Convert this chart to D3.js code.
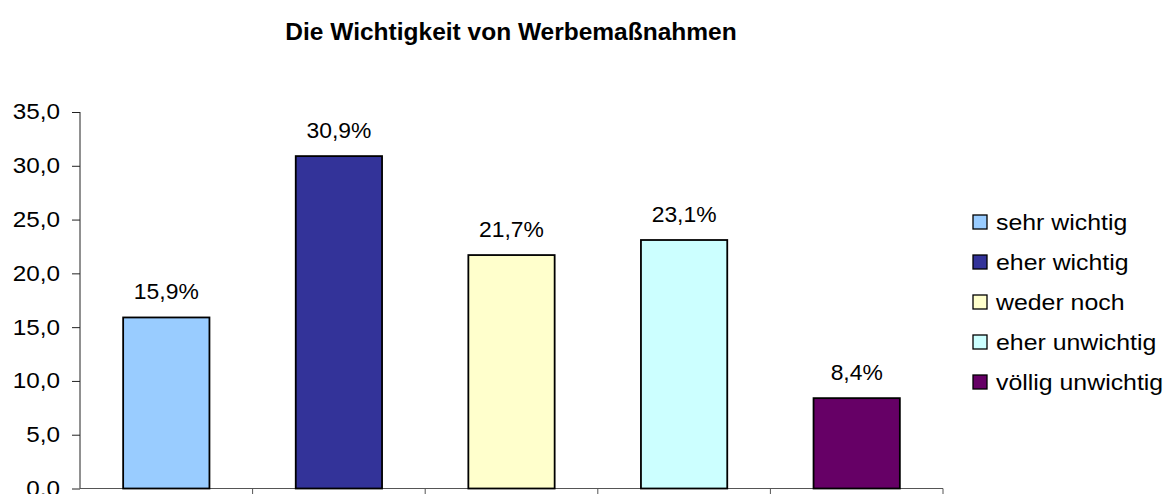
<!DOCTYPE html>
<html>
<head>
<meta charset="utf-8">
<script src="https://cdn.jsdelivr.net/npm/d3@7"></script>
<style>
  html, body { margin: 0; padding: 0; background: #fff; }
  svg { display: block; font-family: "Liberation Sans", Arial, sans-serif; }
</style>
</head>
<body>
<div id="chart"></div>
<script>
const categories = ['sehr wichtig', 'eher wichtig', 'weder noch', 'eher unwichtig', 'völlig unwichtig'];
const values = [15.9, 30.9, 21.7, 23.1, 8.4];
const colors = ['#99ccff', '#333399', '#ffffcc', '#ccffff', '#660066'];
const yTicks = [0, 5, 10, 15, 20, 25, 30, 35];
const title = 'Die Wichtigkeit von Werbemaßnahmen';

const W = 1166, H = 494;
const plot = { left: 80, right: 943, top: 112, bottom: 488.5 };
const stretch = 1.13; // the reference glyphs are a bit wider than tall

const de = d3.formatLocale({ decimal: ',', thousands: '.', grouping: [3], currency: ['', ' €'] });
const fmtTick = de.format('.1f');
const fmtLabel = v => de.format('.1f')(v) + '%';

const svg = d3.select('#chart').append('svg')
  .attr('width', W).attr('height', H)
  .attr('viewBox', `0 0 ${W} ${H}`);

const x = d3.scaleBand().domain(categories)
  .range([plot.left, plot.right]).paddingInner(0.5).paddingOuter(0.25);
const y = d3.scaleLinear().domain([0, 35]).range([plot.bottom, plot.top]);

// title
svg.append('text')
  .attr('x', 511).attr('y', 40)
  .attr('text-anchor', 'middle')
  .attr('font-size', 24.5).attr('font-weight', 'bold')
  .text(title);

// y axis
const yAxis = svg.append('g')
  .attr('transform', `translate(${plot.left},0)`)
  .call(d3.axisLeft(y).tickValues(yTicks).tickFormat(fmtTick).tickSize(8));
yAxis.select('.domain').attr('stroke', '#222').attr('d', `M0,${plot.top}V${plot.bottom}`);
yAxis.selectAll('.tick line').attr('stroke', '#222');
yAxis.selectAll('.tick text')
  .attr('font-size', 21.5).attr('fill', '#000')
  .attr('font-family', '"Liberation Sans", Arial, sans-serif')
  .attr('x', -20 / stretch)
  .attr('transform', `scale(${stretch},1)`);

// x axis line with ticks on band boundaries
const step = x.step();
const bounds = d3.range(categories.length + 1).map(i => plot.left + i * step);
svg.append('line')
  .attr('x1', plot.left).attr('x2', plot.right)
  .attr('y1', plot.bottom).attr('y2', plot.bottom)
  .attr('stroke', '#555');
svg.selectAll('.xtick').data(bounds.slice(1)).join('line')
  .attr('class', 'xtick')
  .attr('x1', d => d).attr('x2', d => d)
  .attr('y1', plot.bottom).attr('y2', plot.bottom + 10)
  .attr('stroke', '#555');

// bars
svg.selectAll('.bar').data(values).join('rect')
  .attr('class', 'bar')
  .attr('x', (d, i) => x(categories[i]))
  .attr('width', x.bandwidth())
  .attr('y', d => y(d))
  .attr('height', d => y(0) - y(d))
  .attr('fill', (d, i) => colors[i])
  .attr('stroke', '#000').attr('stroke-width', 1.8);

// value labels
svg.selectAll('.lbl').data(values).join('text')
  .attr('class', 'lbl')
  .attr('transform', (d, i) =>
    `translate(${x(categories[i]) + x.bandwidth() / 2},${y(d) - 18}) scale(1.04,1)`)
  .attr('text-anchor', 'middle')
  .attr('font-size', 22)
  .text(fmtLabel);

// legend
const legend = svg.append('g').attr('transform', 'translate(973,222)');
const item = legend.selectAll('g').data(categories).join('g')
  .attr('transform', (d, i) => `translate(0,${i * 40})`);
item.append('rect')
  .attr('x', 0).attr('y', -7).attr('width', 14).attr('height', 14)
  .attr('fill', (d, i) => colors[i])
  .attr('stroke', '#000').attr('stroke-width', 1.3);
item.append('text')
  .attr('transform', `translate(23,8) scale(${stretch},1)`)
  .attr('font-size', 22)
  .text(d => d);
</script>
</body>
</html>
